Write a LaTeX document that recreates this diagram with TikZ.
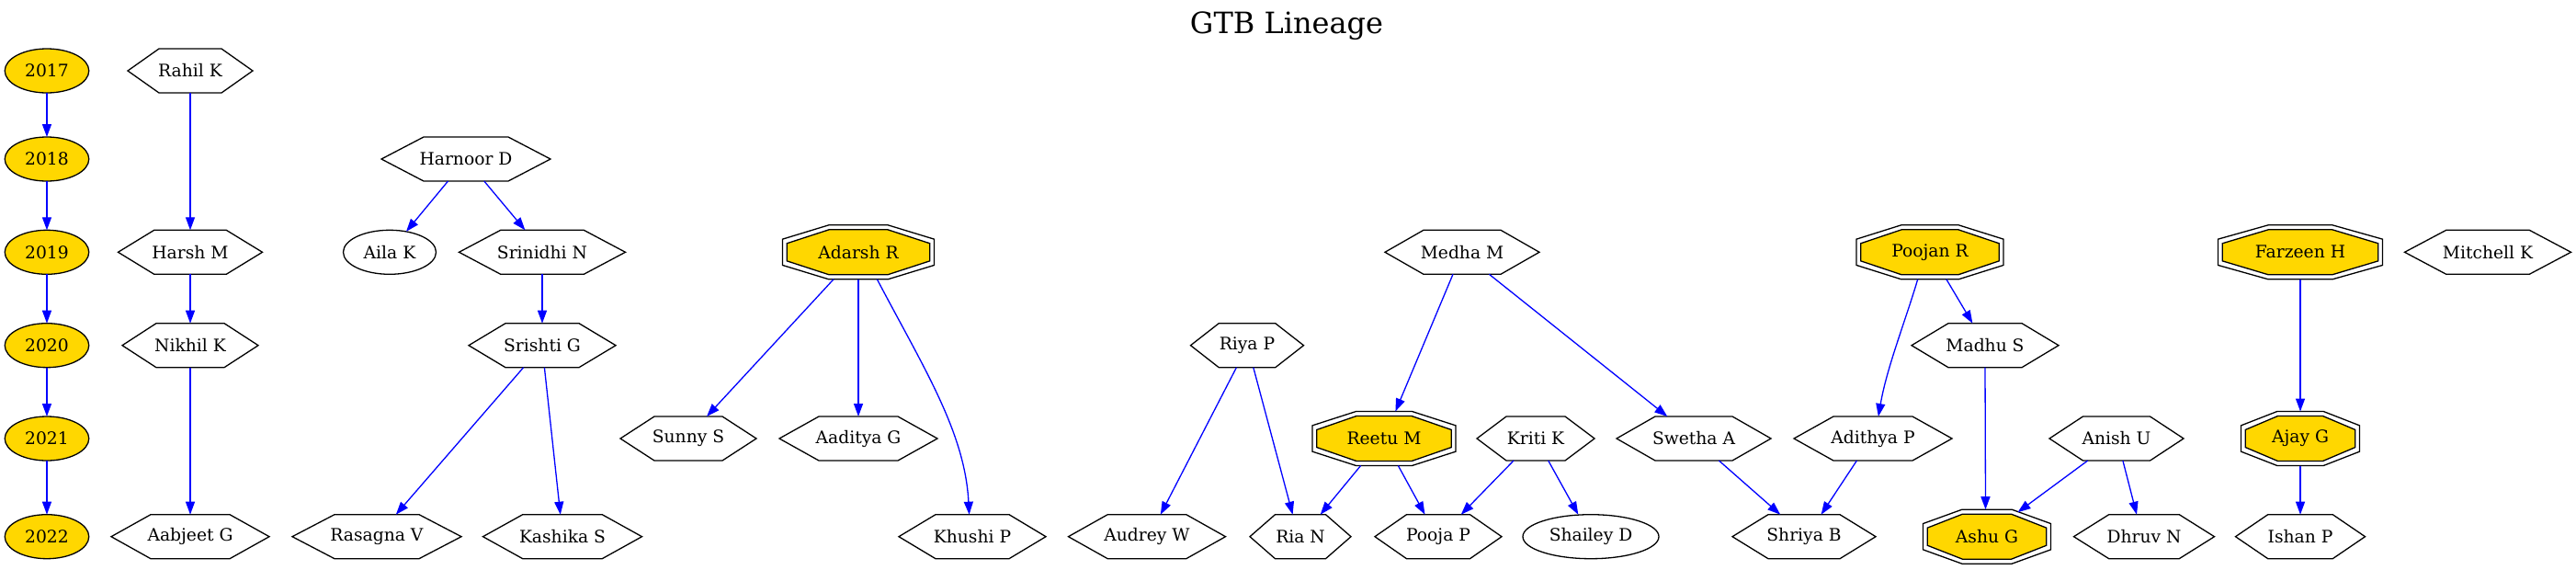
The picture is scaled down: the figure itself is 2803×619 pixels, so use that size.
\documentclass[tikz,border=0pt]{standalone}
\usepackage{fontspec}
\setmainfont{DejaVu Serif}
\usetikzlibrary{shapes.geometric,arrows.meta,calc}
\definecolor{gold}{RGB}{255,215,0}
\definecolor{edgeblue}{RGB}{0,0,255}
\newcommand\gvfont{\fontsize{18.7}{22}\selectfont}
% hexagon drawn on the border box of a named node
\newcommand\hexshape[1]{\draw[nodeline] (#1.west) -- ($(#1.north west)!0.25!(#1.north east)$) -- ($(#1.north west)!0.75!(#1.north east)$) -- (#1.east) -- ($(#1.south west)!0.75!(#1.south east)$) -- ($(#1.south west)!0.25!(#1.south east)$) -- cycle;}
\newcommand\hexnode[5]{\node[plain, minimum width=#4pt, minimum height=48pt] (#1) at (#2,#3) {#5};\hexshape{#1}}
% octagon: cx, cy, w, h, top fraction, side fraction, style
\newcommand\octshape[7]{\draw[#7] ({#1-(#3)/2},{#2-#6*(#4)/2}) -- ({#1-#5*(#3)/2},{#2-(#4)/2}) -- ({#1+#5*(#3)/2},{#2-(#4)/2}) -- ({#1+(#3)/2},{#2-#6*(#4)/2}) -- ({#1+(#3)/2},{#2+#6*(#4)/2}) -- ({#1+#5*(#3)/2},{#2+(#4)/2}) -- ({#1-#5*(#3)/2},{#2+(#4)/2}) -- ({#1-(#3)/2},{#2+#6*(#4)/2}) -- cycle;}
\newcommand\octnode[5]{\octshape{#2}{#3}{#4}{59}{0.39}{0.48}{nodeline}\octshape{#2}{#3}{#4-9.5}{49}{0.41}{0.39}{nodeline,fill=gold}\node[plain, minimum width=#4pt, minimum height=59pt] (#1) at (#2,#3) {#5};}
\begin{document}
\begin{tikzpicture}[x=1pt,y=-1pt,
  nodeline/.style={draw=black, line width=1.3pt},
  plain/.style={inner sep=0pt, outer sep=0pt, font=\gvfont},
  year/.style={plain, ellipse, draw=black, line width=1.3pt, fill=gold, minimum width=91.5pt, minimum height=48pt},
  oval/.style={plain, ellipse, draw=black, line width=1.3pt, minimum height=48pt},
  edge/.style={draw=edgeblue, line width=1.3pt, -{Triangle[length=14pt,width=10pt]}}]
\path[use as bounding box] (0,0) rectangle (2803,619);
\node[anchor=base, inner sep=0pt, font=\fontsize{32}{38}\selectfont] (title) at (1400,36.7) {GTB Lineage};
% years
\node[year] (y2017) at (51,77) {2017};
\node[year] (y2018) at (51,173) {2018};
\node[year] (y2019) at (51,274.3) {2019};
\node[year] (y2020) at (51,375.7) {2020};
\node[year] (y2021) at (51,477) {2021};
\node[year] (y2022) at (51,583.7) {2022};
% hexagons
\hexnode{rahil}{207}{77}{136}{Rahil K}
\hexnode{harsh}{207}{274.3}{157}{Harsh M}
\hexnode{nikhil}{207}{375.7}{148}{Nikhil K}
\hexnode{aabjeet}{207}{583.7}{172}{Aabjeet G}
\hexnode{harnoor}{507}{173}{184}{Harnoor D}
\hexnode{srinidhi}{590}{274.3}{181}{Srinidhi N}
\hexnode{srishti}{590}{375.7}{160}{Srishti G}
\hexnode{rasagna}{410}{583.7}{184}{Rasagna V}
\hexnode{kashika}{612}{583.7}{173}{Kashika S}
\hexnode{sunny}{749}{477}{148}{Sunny S}
\hexnode{aaditya}{934}{477}{172}{Aaditya G}
\hexnode{khushi}{1058}{583.7}{160}{Khushi P}
\hexnode{riya}{1357}{375.7}{123}{Riya P}
\hexnode{audrey}{1248}{583.7}{171}{Audrey W}
\hexnode{rian}{1415}{583.7}{110}{Ria N}
\hexnode{medha}{1591}{274.3}{168}{Medha M}
\hexnode{kriti}{1671}{477}{128}{Kriti K}
\hexnode{pooja}{1565}{583.7}{138}{Pooja P}
\hexnode{swetha}{1843}{477}{168}{Swetha A}
\hexnode{adithya}{2038}{477}{172}{Adithya P}
\hexnode{shriya}{1963}{583.7}{156}{Shriya B}
\hexnode{madhu}{2160}{375.7}{160}{Madhu S}
\hexnode{anish}{2303}{477}{146}{Anish U}
\hexnode{dhruv}{2333}{583.7}{153}{Dhruv N}
\hexnode{ishan}{2503}{583.7}{141}{Ishan P}
\hexnode{mitchell}{2707}{274.3}{181}{Mitchell K}
% ellipses
\node[oval, minimum width=101pt] (aila) at (424,274.3) {Aila K};
\node[oval, minimum width=148pt] (shailey) at (1731,583.7) {Shailey D};
% double octagons
\octnode{adarsh}{934}{274.3}{165}{Adarsh R}
\octnode{reetu}{1506}{477}{156}{Reetu M}
\octnode{poojan}{2100}{274.3}{160}{Poojan R}
\octnode{ashu}{2162}{583.7}{139}{Ashu G}
\octnode{farzeen}{2503}{274.3}{179}{Farzeen H}
\octnode{ajay}{2503}{477}{129}{Ajay G}
% edges
\draw[edge] (y2017) -- (y2018);
\draw[edge] (y2018) -- (y2019);
\draw[edge] (y2019) -- (y2020);
\draw[edge] (y2020) -- (y2021);
\draw[edge] (y2021) -- (y2022);
\draw[edge] (rahil.south) -- (harsh.north);
\draw[edge] (harsh.south) -- (nikhil.north);
\draw[edge] (nikhil.south) -- (aabjeet.north);
\draw[edge] ([xshift=-19.5pt]harnoor.south) -- ([xshift=18pt,yshift=-1.6pt]aila.north);
\draw[edge] ([xshift=19.8pt]harnoor.south) -- ([xshift=-18.6pt]srinidhi.north);
\draw[edge] (srinidhi.south) -- (srishti.north);
\draw[edge] ([xshift=-20.4pt]srishti.south) -- ([xshift=20.8pt]rasagna.north);
\draw[edge] ([xshift=2.4pt]srishti.south) -- ([xshift=-2.2pt]kashika.north);
\draw[edge] ([xshift=-27pt]adarsh.south) -- ([xshift=20pt]sunny.north);
\draw[edge] (adarsh.south) -- (aaditya.north);
\draw[edge] ([xshift=20.4pt]adarsh.south) .. controls (1005,400) and (1050,470) .. ([xshift=-3.4pt]khushi.north);
\draw[edge] ([xshift=-11.6pt]riya.south) -- ([xshift=14.8pt]audrey.north);
\draw[edge] ([xshift=6.8pt]riya.south) -- ([xshift=-8.4pt]rian.north);
\draw[edge] ([xshift=-25.4pt]reetu.south) -- ([xshift=21.7pt]rian.north);
\draw[edge] ([xshift=15.4pt]reetu.south) -- ([xshift=-14.5pt]pooja.north);
\draw[edge] ([xshift=-24pt]kriti.south) -- ([xshift=24.8pt]pooja.north);
\draw[edge] ([xshift=13.7pt]kriti.south) -- ([xshift=-13.7pt]shailey.north);
\draw[edge] ([xshift=-10pt]medha.south) -- ([xshift=12.4pt]reetu.north);
\draw[edge] ([xshift=29.4pt]medha.south) -- ([xshift=-28.7pt]swetha.north);
\draw[edge] ([xshift=27.4pt]swetha.south) -- ([xshift=-25.8pt]shriya.north);
\draw[edge] ([xshift=-17.6pt]adithya.south) -- ([xshift=18.6pt]shriya.north);
\draw[edge] ([xshift=-13.3pt]poojan.south) .. controls (2073,350) and (2053,400) .. ([xshift=5.9pt]adithya.north);
\draw[edge] ([xshift=17.9pt]poojan.south) -- ([xshift=-13.6pt]madhu.north);
\draw[edge] (madhu.south) -- ([xshift=-1.5pt]ashu.north);
\draw[edge] ([xshift=-31.3pt]anish.south) -- ([xshift=33.5pt,yshift=-3pt]ashu.north);
\draw[edge] ([xshift=6.9pt]anish.south) -- ([xshift=-8pt]dhruv.north);
\draw[edge] (farzeen.south) -- (ajay.north);
\draw[edge] (ajay.south) -- (ishan.north);
\end{tikzpicture}
\end{document}
